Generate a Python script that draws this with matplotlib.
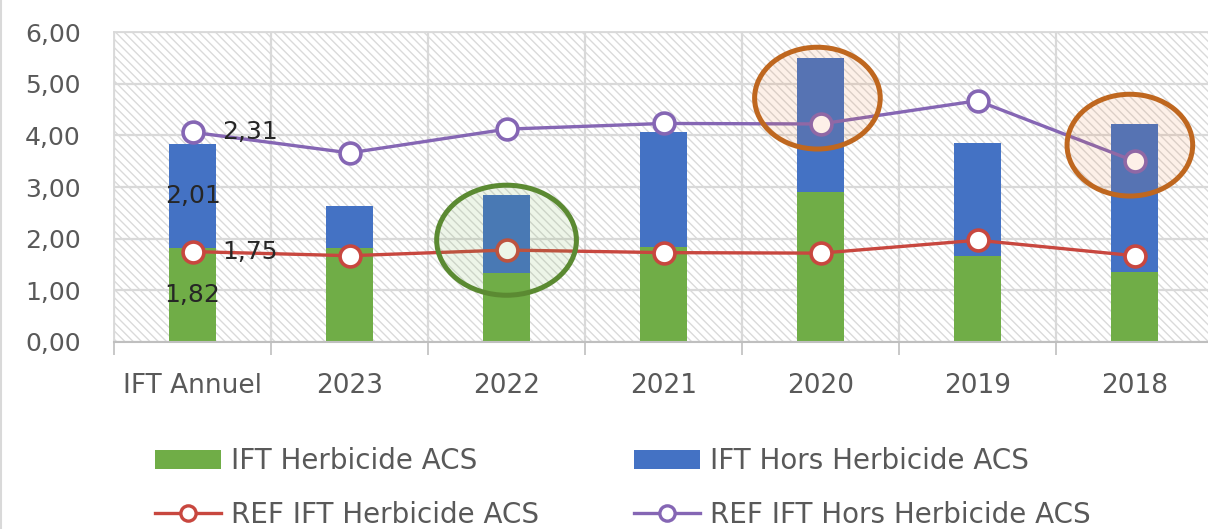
import matplotlib
matplotlib.use("Agg")
import matplotlib.pyplot as plt
from matplotlib.patches import Rectangle, Ellipse
from matplotlib.lines import Line2D
import numpy as np

# données IFT par campagne
categories = ["IFT Annuel", "2023", "2022", "2021", "2020", "2019", "2018"]
ift_herbicide = [1.82, 1.82, 1.33, 1.83, 2.90, 1.67, 1.36]
ift_hors_herbicide = [2.01, 0.82, 1.52, 2.24, 2.60, 2.19, 2.85]
ref_herbicide = [1.75, 1.67, 1.78, 1.73, 1.72, 1.97, 1.67]
ref_hors_herbicide = [2.31, 1.99, 2.34, 2.50, 2.50, 2.70, 1.83]

plt.rcParams['font.family'] = ['DejaVu Sans']
plt.rcParams['hatch.linewidth'] = 1.0

vert = '#70ad47'
bleu = '#4472c4'
rouge = '#c8473f'
violet = '#8566b4'
gris_txt = '#595959'

fig = plt.figure(figsize=(12.08, 5.29), dpi=100)
ax = fig.add_axes([0.0944, 0.3535, 0.9098, 0.586])

x = np.arange(len(categories))
herb = np.array(ift_herbicide)
hors = np.array(ift_hors_herbicide)
ref_h = np.array(ref_herbicide)
ref_hh = np.array(ref_hors_herbicide)

# fond hachuré de la zone de tracé
ax.add_patch(Rectangle((0, 0), 1, 1, transform=ax.transAxes, facecolor='white',
                       edgecolor='#dadada', hatch='\\\\\\\\', lw=0, zorder=0.1))

b1 = ax.bar(x, herb, width=0.3, color=vert, zorder=2)
b2 = ax.bar(x, hors, width=0.3, bottom=herb, color=bleu, zorder=2)

# courbes de référence (empilées comme dans Excel)
l1, = ax.plot(x, ref_h, color=rouge, lw=2.4, marker='o', ms=15, mfc='white',
              mec=rouge, mew=2.6, zorder=3)
l2, = ax.plot(x, ref_h + ref_hh, color=violet, lw=2.4, marker='o', ms=15, mfc='white',
              mec=violet, mew=2.6, zorder=3)

# étiquettes de valeurs sur la première colonne
lbl = dict(fontsize=18, color='#262626', zorder=5)
ax.text(x[0], herb[0] / 2, f"{herb[0]:.2f}".replace('.', ','), ha='center', va='center', **lbl)
ax.text(x[0], herb[0] + hors[0] / 2, f"{hors[0]:.2f}".replace('.', ','), ha='center', va='center', **lbl)
ax.text(x[0] + 0.19, ref_h[0], f"{ref_h[0]:.2f}".replace('.', ','), ha='left', va='center', **lbl)
ax.text(x[0] + 0.19, ref_h[0] + ref_hh[0], f"{ref_hh[0]:.2f}".replace('.', ','), ha='left', va='center', **lbl)

# cercles de mise en évidence
ax.add_patch(Ellipse((2, 1.97), 0.89, 2.13, facecolor=(0.44, 0.68, 0.28, 0.12),
                     edgecolor='#5b8a32', lw=3.6, zorder=4))
for cx, cy in [(3.98, 4.72), (5.97, 3.81)]:
    ax.add_patch(Ellipse((cx, cy), 0.80, 1.97, facecolor=(0.93, 0.49, 0.19, 0.11),
                         edgecolor='#bf671f', lw=3.6, zorder=4))

ax.set_xlim(-0.5, len(categories) - 0.5)
ax.set_ylim(0, 6)
ax.set_yticks(np.arange(0, 7, 1))
ax.set_yticklabels([f"{v:.2f}".replace('.', ',') for v in np.arange(0, 7, 1)])
ax.set_xticks(x)
ax.set_xticklabels(categories)
ax.set_xticks(np.arange(-0.5, len(categories), 1), minor=True)

ax.tick_params(axis='y', length=0, pad=24, labelsize=18, labelcolor=gris_txt)
ax.tick_params(axis='x', which='major', length=0, pad=22, labelsize=19, labelcolor=gris_txt)
ax.tick_params(axis='x', which='minor', length=9, width=1.2, color='#bfbfbf')

ax.set_axisbelow(True)
ax.grid(axis='y', color='#d9d9d9', lw=1.6, zorder=0.5)
ax.grid(axis='x', which='minor', color='#d9d9d9', lw=1.6, zorder=0.5)
for s in ['top', 'left']:
    ax.spines[s].set_color('#d9d9d9')
    ax.spines[s].set_linewidth(1.3)
ax.spines['right'].set_visible(False)
ax.spines['bottom'].set_color('#bfbfbf')
ax.spines['bottom'].set_linewidth(1.5)
ax.spines['bottom'].set_zorder(3)

# légende sur deux colonnes sous le graphique
leg = fig.legend([b1, l1, b2, l2],
                 ["IFT Herbicide ACS", "REF IFT Herbicide ACS",
                  "IFT Hors Herbicide ACS", "REF IFT Hors Herbicide ACS"],
                 ncol=2, loc='upper left', bbox_to_anchor=(0.128, 0.155),
                 frameon=False, fontsize=20, handlelength=2.4, handletextpad=0.36,
                 columnspacing=3.4, labelspacing=0.92, borderpad=0, borderaxespad=0)
for t in leg.get_texts():
    t.set_color(gris_txt)
for h in leg.legend_handles:
    if isinstance(h, Line2D):
        h.set_markersize(11)
        h.set_markeredgewidth(2.4)

fig.add_artist(Line2D([0.001, 0.001], [0, 1], color='#d9d9d9', lw=1.5))

fig.savefig("out.png", dpi=100)
